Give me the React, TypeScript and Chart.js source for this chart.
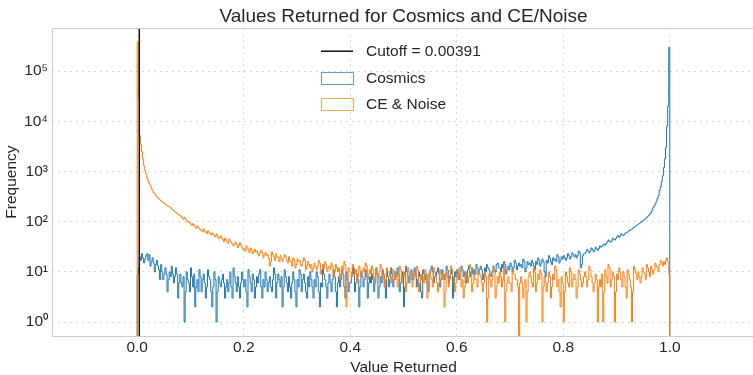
import React, { useEffect, useRef } from "react";
import { Chart, registerables } from "chart.js";

Chart.register(...registerables);

// ---- data ----
const BIN_START = 0;
const BIN_WIDTH = 0.002; // 500 bins over [0, 1]

const COSMICS = [
  9, 12, 20, 17, 23, 19, 15, 18, 21, 23, 17, 22, 13, 16, 19, 15, 10, 14, 17, 13,
  11, 7, 14, 10, 7, 9, 12, 9, 4, 7, 10, 8, 13, 9, 6, 8, 12, 9, 3, 6,
  9, 6, 5, 8, 1, 4, 10, 7, 6, 4, 12, 8, 5, 9, 2, 5, 7, 4, 11, 8,
  4, 7, 9, 6, 3, 5, 11, 8, 7, 4, 2, 5, 10, 7, 1, 4, 8, 6, 5, 7,
  9, 6, 3, 5, 7, 4, 6, 10, 5, 3, 12, 8, 6, 4, 8, 5, 3, 6, 10, 7,
  5, 7, 4, 2, 11, 8, 6, 4, 9, 7, 3, 5, 8, 6, 9, 11, 5, 3, 7, 5,
  10, 7, 4, 6, 8, 5, 4, 7, 12, 9, 3, 6, 9, 7, 5, 8, 2, 5, 11, 8,
  6, 4, 8, 5, 3, 6, 10, 7, 4, 2, 7, 5, 11, 9, 4, 7, 9, 6, 4, 3,
  8, 5, 10, 7, 5, 3, 7, 5, 10, 8, 4, 2, 6, 5, 12, 9, 7, 5, 3, 6,
  9, 6, 4, 7, 11, 8, 4, 2, 6, 8, 5, 7, 11, 9, 5, 3, 10, 7, 4, 6,
  6, 8, 12, 9, 4, 6, 9, 7, 2, 5, 10, 8, 5, 7, 11, 8, 3, 6, 8, 6,
  9, 7, 4, 6, 12, 9, 3, 5, 8, 6, 11, 9, 5, 3, 10, 8, 5, 7, 12, 9,
  5, 7, 10, 8, 12, 9, 4, 6, 8, 10, 2, 5, 13, 10, 8, 6, 9, 11, 7, 9,
  12, 9, 5, 7, 10, 8, 4, 3, 11, 9, 7, 9, 6, 4, 9, 11, 13, 10, 6, 8,
  8, 10, 12, 9, 5, 7, 11, 9, 7, 9, 13, 11, 6, 8, 9, 11, 3, 6, 10, 8,
  11, 9, 7, 10, 13, 11, 8, 10, 6, 8, 11, 13, 8, 10, 12, 9, 11, 9, 14, 12,
  9, 11, 13, 11, 7, 9, 12, 10, 14, 12, 11, 9, 8, 10, 13, 11, 10, 14, 15, 12,
  12, 10, 14, 12, 16, 14, 9, 11, 13, 11, 15, 13, 10, 12, 17, 15, 11, 13, 15, 13,
  14, 12, 18, 16, 10, 12, 16, 14, 15, 13, 17, 15, 13, 11, 16, 14, 19, 17, 13, 15,
  18, 16, 10, 8, 17, 15, 21, 19, 16, 14, 19, 17, 18, 16, 22, 20, 15, 17, 20, 18,
  21, 19, 17, 19, 23, 21, 18, 20, 24, 22, 20, 22, 19, 21, 26, 24, 12, 14, 21, 23,
  23, 25, 28, 26, 24, 26, 30, 28, 25, 27, 31, 29, 27, 29, 33, 31, 32, 34, 36, 34,
  37, 39, 43, 41, 39, 41, 47, 45, 43, 46, 50, 53, 49, 51, 57, 55, 53, 56, 59, 61,
  62, 65, 67, 70, 71, 74, 77, 80, 83, 86, 89, 92, 96, 99, 103, 107, 111, 117, 122, 128,
  135, 142, 152, 168, 190, 205, 228, 250, 290, 330, 420, 500, 640, 820, 1200, 1800, 3000, 8000, 20000, 300000,
];

const CE_NOISE = [
  380000, 30000, 5200, 3500, 2500, 1800, 1300, 1050, 880, 740, 640, 580, 520, 460, 420, 385, 360, 335, 312, 296,
  285, 272, 262, 250, 242, 230, 226, 214, 208, 200, 198, 190, 178, 172, 165, 156, 152, 146, 142, 136,
  132, 126, 118, 112, 122, 114, 104, 98, 100, 94, 88, 84, 92, 86, 78, 74, 82, 77, 72, 68,
  68, 63, 72, 66, 61, 58, 66, 62, 57, 54, 60, 56, 53, 50, 57, 52, 46, 48, 52, 47,
  44, 40, 47, 43, 40, 37, 45, 41, 38, 35, 33, 36, 39, 35, 30, 33, 38, 34, 31, 28,
  29, 26, 33, 30, 27, 24, 30, 27, 23, 25, 28, 25, 26, 23, 21, 24, 27, 24, 19, 22,
  24, 21, 22, 19, 13, 16, 25, 22, 20, 17, 23, 20, 19, 16, 21, 18, 16, 19, 22, 20,
  17, 15, 20, 17, 16, 13, 19, 17, 12, 14, 18, 16, 17, 14, 13, 16, 19, 17, 11, 13,
  16, 14, 12, 14, 10, 12, 15, 13, 11, 13, 17, 15, 9, 11, 14, 12, 16, 14, 10, 12,
  13, 11, 15, 13, 8, 10, 14, 12, 10, 12, 7, 9, 13, 11, 16, 14, 2, 5, 12, 10,
  10, 8, 14, 12, 9, 11, 6, 8, 13, 11, 8, 10, 12, 10, 15, 13, 7, 9, 11, 9,
  13, 11, 6, 8, 11, 9, 8, 10, 14, 12, 7, 9, 5, 7, 12, 10, 10, 8, 6, 8,
  11, 9, 7, 9, 5, 7, 13, 11, 6, 8, 10, 8, 4, 6, 12, 10, 9, 7, 5, 7,
  10, 8, 13, 11, 4, 6, 9, 7, 8, 6, 11, 9, 3, 5, 10, 8, 7, 5, 12, 10,
  8, 6, 4, 6, 11, 9, 7, 9, 2, 4, 10, 8, 5, 7, 13, 11, 8, 6, 4, 6,
  9, 7, 12, 10, 5, 7, 3, 5, 10, 8, 6, 8, 14, 12, 4, 6, 9, 7, 7, 5,
  11, 9, 8, 6, 4, 6, 10, 8, 1, 3, 9, 7, 5, 7, 12, 10, 3, 5, 8, 6,
  10, 8, 5, 7, 13, 1, 4, 6, 8, 6, 6, 4, 11, 9, 9, 7, 7, 5, 0, 6,
  8, 6, 3, 5, 7, 1, 4, 8, 10, 8, 6, 5, 12, 10, 4, 6, 9, 7, 11, 9,
  1, 5, 8, 6, 4, 6, 10, 8, 3, 5, 9, 7, 13, 11, 5, 7, 4, 2, 8, 6,
  1, 4, 10, 8, 6, 5, 12, 10, 5, 7, 9, 7, 3, 5, 11, 9, 7, 5, 6, 8,
  10, 8, 5, 7, 13, 11, 8, 6, 4, 6, 9, 7, 1, 5, 7, 5, 9, 1, 4, 11,
  8, 6, 14, 12, 5, 7, 10, 8, 1, 4, 9, 7, 12, 10, 7, 5, 10, 8, 5, 3,
  11, 9, 7, 5, 1, 4, 13, 11, 9, 7, 10, 8, 6, 8, 12, 10, 9, 7, 14, 12,
  10, 8, 13, 11, 9, 11, 15, 13, 12, 10, 14, 17, 15, 13, 16, 14, 17, 19, 16, 9,
];

const CUTOFF = 0.00391;

const X_TICKS = [0, 0.2, 0.4, 0.6, 0.8, 1.0];
const X_TICK_LABELS = ["0.0", "0.2", "0.4", "0.6", "0.8", "1.0"];
const Y_TICKS = [1, 10, 100, 1000, 10000, 100000];
const Y_TICK_LABELS = ["10⁰", "10¹", "10²", "10³", "10⁴", "10⁵"];

const TITLE = "Values Returned for Cosmics and CE/Noise";
const X_LABEL = "Value Returned";
const Y_LABEL = "Frequency";
const LEGEND_LABELS = ["Cutoff = 0.00391", "Cosmics", "CE & Noise"];

// ---- styling ----
const FONT = "'Liberation Sans', Arial, Helvetica, sans-serif";
const TEXT = "#262626";
const BLUE = "#1f77b4";
const ORANGE = "#ff7f0e";
const GRID = "#d8d8d8";
const SPINE = "#cccccc";
const X_MIN = -0.16;
const X_MAX = 1.16;
const Y_MIN = 0.526;
const Y_MAX = 7.2e5;
const FLOOR = 0.05; // where log(0) is drawn (below the axis, clipped)
const CEIL = 1e7;

function outline(values: number[]) {
  const edge = (i: number) => BIN_START + i * BIN_WIDTH;
  const val = (v: number) => (v > 0 ? v : FLOOR);
  const pts: { x: number; y: number }[] = [];
  pts.push({ x: edge(0), y: FLOOR });
  values.forEach((v, i) => pts.push({ x: edge(i), y: val(v) }));
  pts.push({ x: edge(values.length), y: val(values[values.length - 1]) });
  pts.push({ x: edge(values.length), y: FLOOR });
  return pts;
}

const framePlugin = {
  id: "frame",
  afterDatasetsDraw(chart: any) {
    const { ctx, chartArea } = chart;
    const { left, right, top, bottom } = chartArea;
    ctx.save();
    ctx.strokeStyle = SPINE;
    ctx.lineWidth = 1;
    ctx.beginPath();
    const l = Math.round(left) + 0.5;
    const t = Math.round(top) + 0.5;
    const b = Math.round(bottom) + 0.5;
    ctx.moveTo(l, b);
    ctx.lineTo(l, t);
    ctx.lineTo(right, t);
    ctx.moveTo(l, b);
    ctx.lineTo(right, b);
    ctx.stroke();
    ctx.restore();
  },
};

const legendPlugin = {
  id: "customLegend",
  afterDraw(chart: any) {
    const { ctx, chartArea } = chart;
    const hx = chartArea.left + 269;
    const tx = chartArea.left + 314;
    const rows = [chartArea.top + 23, chartArea.top + 49.3, chartArea.top + 75.3];
    ctx.save();
    ctx.strokeStyle = "#111111";
    ctx.lineWidth = 1.5;
    ctx.beginPath();
    ctx.moveTo(hx, rows[0]);
    ctx.lineTo(hx + 32, rows[0]);
    ctx.stroke();
    ctx.lineWidth = 1;
    ctx.strokeStyle = "rgba(31,119,180,0.7)";
    ctx.strokeRect(Math.round(hx) + 0.5, Math.round(rows[1] - 6) + 0.5, 32, 12);
    ctx.strokeStyle = "rgba(255,127,14,0.7)";
    ctx.strokeRect(Math.round(hx) + 0.5, Math.round(rows[2] - 6) + 0.5, 32, 12);
    ctx.fillStyle = TEXT;
    ctx.font = `15.5px ${FONT}`;
    ctx.textAlign = "left";
    ctx.textBaseline = "middle";
    LEGEND_LABELS.forEach((label, i) => {
      ctx.fillText(label, tx, rows[i] + (i === 0 ? 1 : 0.8));
    });
    ctx.restore();
  },
};

export default function App() {
  const ref = useRef<HTMLCanvasElement>(null);

  useEffect(() => {
    if (!ref.current) return;
    Chart.defaults.font.family = FONT;
    Chart.defaults.color = TEXT;

    const chart = new Chart(ref.current, {
      type: "line",
      data: {
        datasets: [
          {
            label: LEGEND_LABELS[0],
            data: [
              { x: CUTOFF, y: FLOOR },
              { x: CUTOFF, y: CEIL },
            ],
            borderColor: "#111111",
            borderWidth: 1.5,
            pointRadius: 0,
            fill: false,
            order: 0,
          },
          {
            label: LEGEND_LABELS[2],
            data: outline(CE_NOISE),
            stepped: "before",
            borderColor: ORANGE,
            borderWidth: 1,
            pointRadius: 0,
            fill: false,
            order: 1,
          },
          {
            label: LEGEND_LABELS[1],
            data: outline(COSMICS),
            stepped: "before",
            borderColor: BLUE,
            borderWidth: 1,
            pointRadius: 0,
            fill: false,
            order: 2,
          },
        ],
      },
      options: {
        animation: false,
        responsive: false,
        devicePixelRatio: 1,
        events: [],
        layout: { padding: { left: 0, right: 1, top: 0, bottom: 0 } },
        plugins: {
          legend: { display: false },
          tooltip: { enabled: false },
          title: {
            display: true,
            text: TITLE,
            fullSize: false,
            color: TEXT,
            font: { family: FONT, size: 19, weight: "normal", lineHeight: 1.2 },
            padding: { top: 5.4, bottom: 0 },
          },
        },
        scales: {
          x: {
            type: "linear",
            min: X_MIN,
            max: X_MAX,
            afterFit: (s: any) => {
              s.height = 39;
            },
            afterBuildTicks: (s: any) => {
              s.ticks = X_TICKS.map((v) => ({ value: v }));
            },
            ticks: {
              autoSkip: false,
              maxRotation: 0,
              padding: 2.6,
              color: TEXT,
              font: { family: FONT, size: 15.5, lineHeight: 1.2 },
              callback: (_v: any, i: number) => X_TICK_LABELS[i],
            },
            grid: { color: GRID, lineWidth: 1, drawTicks: false },
            border: { display: false, dash: [2, 4] },
            title: {
              display: true,
              text: X_LABEL,
              color: TEXT,
              font: { family: FONT, size: 15.5, lineHeight: 1 },
              padding: { top: 0, bottom: 0 },
            },
          },
          y: {
            type: "logarithmic",
            min: Y_MIN,
            max: Y_MAX,
            afterFit: (s: any) => {
              s.width = 52;
            },
            afterBuildTicks: (s: any) => {
              s.ticks = Y_TICKS.map((v) => ({ value: v, major: true }));
            },
            ticks: {
              autoSkip: false,
              padding: 4,
              color: TEXT,
              font: { family: FONT, size: 15.5, lineHeight: 1.2 },
              callback: (_v: any, i: number) => Y_TICK_LABELS[i],
            },
            grid: { color: GRID, lineWidth: 1, drawTicks: false },
            border: { display: false, dash: [2, 4] },
            title: {
              display: true,
              text: Y_LABEL,
              color: TEXT,
              font: { family: FONT, size: 15.5, lineHeight: 1 },
              padding: { top: 4.3, bottom: 0 },
            },
          },
        },
      },
      plugins: [framePlugin, legendPlugin],
    } as any);

    return () => chart.destroy();
  }, []);

  return (
    <div
      style={{
        position: "fixed",
        left: 0,
        top: 0,
        width: 753,
        height: 375,
        overflow: "hidden",
        background: "#ffffff",
      }}
    >
      <canvas
        ref={ref}
        width={756}
        height={375}
        style={{ display: "block", width: 756, height: 375 }}
      />
    </div>
  );
}
